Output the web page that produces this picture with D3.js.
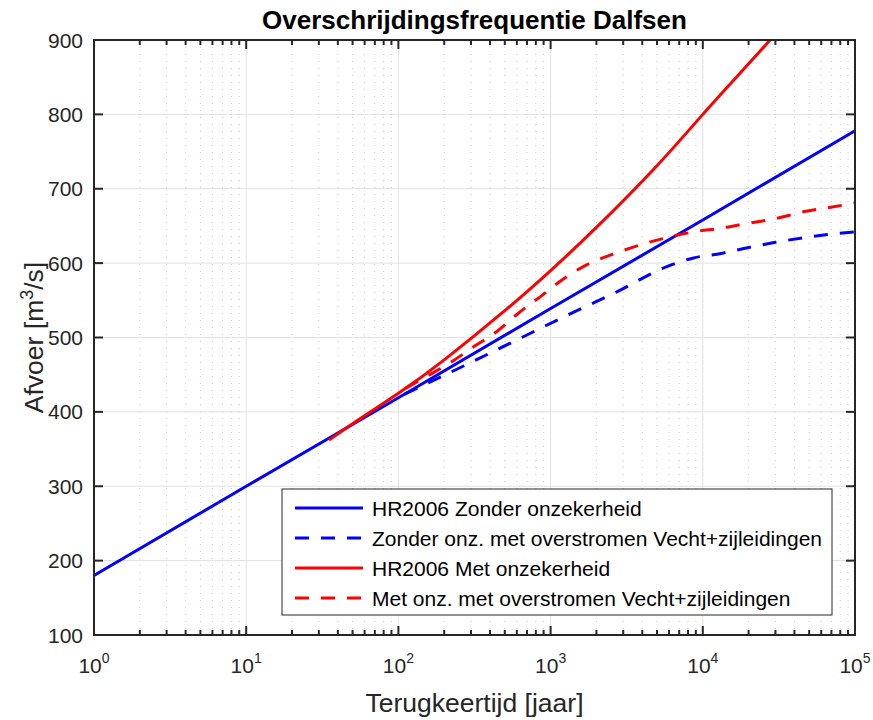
<!DOCTYPE html>
<html>
<head>
<meta charset="utf-8">
<script src="https://cdn.jsdelivr.net/npm/d3@7"></script>
<style>
  body { margin: 0; background: #fff; }
  svg { font-family: "Liberation Sans", Arial, sans-serif; }
</style>
</head>
<body>
<div id="vis"></div>
<script>
// data: return period T [jaar] and discharge [m3/s]
var blueSolidT = [1, 10, 100, 1000, 10000, 100000];
var blueSolidQ = [180, 300, 419, 539, 658, 778];

var blueDashT = [110, 190, 270, 590, 1260, 2700, 5750, 8700, 13200, 20000, 30000, 45700, 70800, 100000];
var blueDashQ = [424, 447, 462, 496, 529, 561, 595, 607, 613, 621, 628, 634, 639, 642];

var redSolidT = [35, 50, 100, 200, 500, 1000, 2000, 5000, 10000, 20000, 30000];
var redSolidQ = [362, 384, 425, 470, 536, 590, 648, 731, 800, 868, 908];

var redDashT = [112, 151, 219, 309, 437, 617, 871, 1200, 1700, 2570, 3800, 5750, 8700, 13200, 20400, 30200, 45700, 69200, 100000];
var redDashQ = [432, 447, 466, 487, 507, 533, 556, 578, 597, 612, 624, 634, 642, 647, 654, 660, 669, 675, 681];

var yTicks = [100, 200, 300, 400, 500, 600, 700, 800, 900];
var xDecades = [0, 1, 2, 3, 4, 5];

var legendNames = [
    "HR2006 Zonder onzekerheid",
    "Zonder onz. met overstromen Vecht+zijleidingen",
    "HR2006 Met onzekerheid",
    "Met onz. met overstromen Vecht+zijleidingen"
];

var width = 873, height = 720;
var margin = { top: 40, left: 94, bottom: 85, right: 18 };
var plotW = width - margin.left - margin.right;
var plotH = height - margin.top - margin.bottom;

var svg = d3.select("#vis").append("svg")
    .attr("width", width)
    .attr("height", height);

var g = svg.append("g")
    .attr("transform", "translate(" + margin.left + "," + margin.top + ")");

var x = d3.scaleLog().domain([1, 1e5]).range([0, plotW]);
var y = d3.scaleLinear().domain([100, 900]).range([plotH, 0]);

// minor x positions (2..9 in each decade)
var minorX = [];
xDecades.slice(0, -1).forEach(function(d) {
    for (var k = 2; k <= 9; k++) minorX.push(k * Math.pow(10, d));
});
var majorX = xDecades.map(function(d) { return Math.pow(10, d); });

// grid
g.selectAll(".minor-grid").data(minorX).enter().append("line")
    .attr("class", "minor-grid")
    .attr("x1", function(d) { return x(d); })
    .attr("x2", function(d) { return x(d); })
    .attr("y1", 0).attr("y2", plotH)
    .attr("stroke", "#c8c8c8")
    .attr("stroke-width", 1)
    .attr("stroke-dasharray", "1,6");

g.selectAll(".major-grid-x").data(majorX).enter().append("line")
    .attr("class", "major-grid-x")
    .attr("x1", function(d) { return x(d); })
    .attr("x2", function(d) { return x(d); })
    .attr("y1", 0).attr("y2", plotH)
    .attr("stroke", "#e1e1e1")
    .attr("stroke-width", 1);

g.selectAll(".major-grid-y").data(yTicks).enter().append("line")
    .attr("class", "major-grid-y")
    .attr("x1", 0).attr("x2", plotW)
    .attr("y1", function(d) { return y(d); })
    .attr("y2", function(d) { return y(d); })
    .attr("stroke", "#e1e1e1")
    .attr("stroke-width", 1);

// curves
svg.append("defs").append("clipPath").attr("id", "clip")
    .append("rect").attr("width", plotW).attr("height", plotH);

function makeLine(curve) {
    return d3.line()
        .x(function(d) { return x(d[0]); })
        .y(function(d) { return y(d[1]); })
        .curve(curve);
}

function pairs(ts, qs) {
    return ts.map(function(t, i) { return [t, qs[i]]; });
}

var series = [
    { data: pairs(blueSolidT, blueSolidQ), color: "#0000ff", dash: null, curve: d3.curveLinear },
    { data: pairs(blueDashT, blueDashQ), color: "#0000ff", dash: "14,12", curve: d3.curveMonotoneX },
    { data: pairs(redSolidT, redSolidQ), color: "#ff0000", dash: null, curve: d3.curveNatural },
    { data: pairs(redDashT, redDashQ), color: "#ff0000", dash: "14,12", curve: d3.curveMonotoneX }
];

var curves = g.append("g").attr("clip-path", "url(#clip)");
[0, 2, 1, 3].forEach(function(i) {
    var s = series[i];
    curves.append("path")
        .datum(s.data)
        .attr("fill", "none")
        .attr("stroke", s.color)
        .attr("stroke-width", 3)
        .attr("stroke-dasharray", s.dash)
        .attr("d", makeLine(s.curve));
});

// box + inward ticks on all sides
var axisColor = "#262626";
g.append("rect")
    .attr("width", plotW).attr("height", plotH)
    .attr("fill", "none")
    .attr("stroke", axisColor)
    .attr("stroke-width", 2);

function xTick(vals, len) {
    [0, plotH].forEach(function(base) {
        var dir = base === 0 ? 1 : -1;
        g.selectAll(null).data(vals).enter().append("line")
            .attr("x1", function(d) { return x(d); })
            .attr("x2", function(d) { return x(d); })
            .attr("y1", base).attr("y2", base + dir * len)
            .attr("stroke", axisColor).attr("stroke-width", 2);
    });
}
xTick(majorX, 9);
xTick(minorX, 5);

[0, plotW].forEach(function(base) {
    var dir = base === 0 ? 1 : -1;
    g.selectAll(null).data(yTicks).enter().append("line")
        .attr("x1", base).attr("x2", base + dir * 9)
        .attr("y1", function(d) { return y(d); })
        .attr("y2", function(d) { return y(d); })
        .attr("stroke", axisColor).attr("stroke-width", 2);
});

// tick labels
g.selectAll(".ylab").data(yTicks).enter().append("text")
    .attr("class", "ylab")
    .attr("x", -11)
    .attr("y", function(d) { return y(d); })
    .attr("dy", "0.36em")
    .attr("text-anchor", "end")
    .attr("font-size", 21)
    .attr("fill", axisColor)
    .text(function(d) { return d; });

var xl = g.selectAll(".xlab").data(xDecades).enter().append("text")
    .attr("class", "xlab")
    .attr("x", function(d) { return x(Math.pow(10, d)); })
    .attr("y", plotH + 38)
    .attr("text-anchor", "middle")
    .attr("font-size", 21)
    .attr("fill", axisColor);
xl.append("tspan").text("10");
xl.append("tspan").attr("dy", -10).attr("font-size", 14)
    .text(function(d) { return d; });

// axis titles
g.append("text")
    .attr("x", plotW / 2)
    .attr("y", plotH + 77)
    .attr("text-anchor", "middle")
    .attr("font-size", 26.5)
    .attr("fill", axisColor)
    .text("Terugkeertijd [jaar]");

var yt = g.append("text")
    .attr("transform", "translate(-51," + (plotH / 2) + ") rotate(-90)")
    .attr("text-anchor", "middle")
    .attr("font-size", 26.5)
    .attr("fill", axisColor);
yt.append("tspan").text("Afvoer [m");
yt.append("tspan").attr("dy", -10).attr("font-size", 18).text("3");
yt.append("tspan").attr("dy", 10).text("/s]");

svg.append("text")
    .attr("x", margin.left + plotW / 2)
    .attr("y", 29)
    .attr("text-anchor", "middle")
    .attr("font-size", 26)
    .attr("font-weight", "bold")
    .attr("fill", "#000")
    .text("Overschrijdingsfrequentie Dalfsen");

// legend
var legend = svg.append("g").attr("transform", "translate(282,489)");
legend.append("rect")
    .attr("width", 550).attr("height", 126)
    .attr("fill", "#fff")
    .attr("stroke", axisColor)
    .attr("stroke-width", 1);

var rows = legend.selectAll(".row").data(series).enter().append("g")
    .attr("class", "row")
    .attr("transform", function(d, i) { return "translate(0," + (19 + i * 30) + ")"; });
rows.append("line")
    .attr("x1", 13).attr("x2", 81)
    .attr("stroke", function(d) { return d.color; })
    .attr("stroke-width", 3)
    .attr("stroke-dasharray", function(d) { return d.dash; });
rows.append("text")
    .attr("x", 90)
    .attr("dy", "0.36em")
    .attr("font-size", 21)
    .attr("fill", "#000")
    .text(function(d, i) { return legendNames[i]; });
</script>
</body>
</html>
